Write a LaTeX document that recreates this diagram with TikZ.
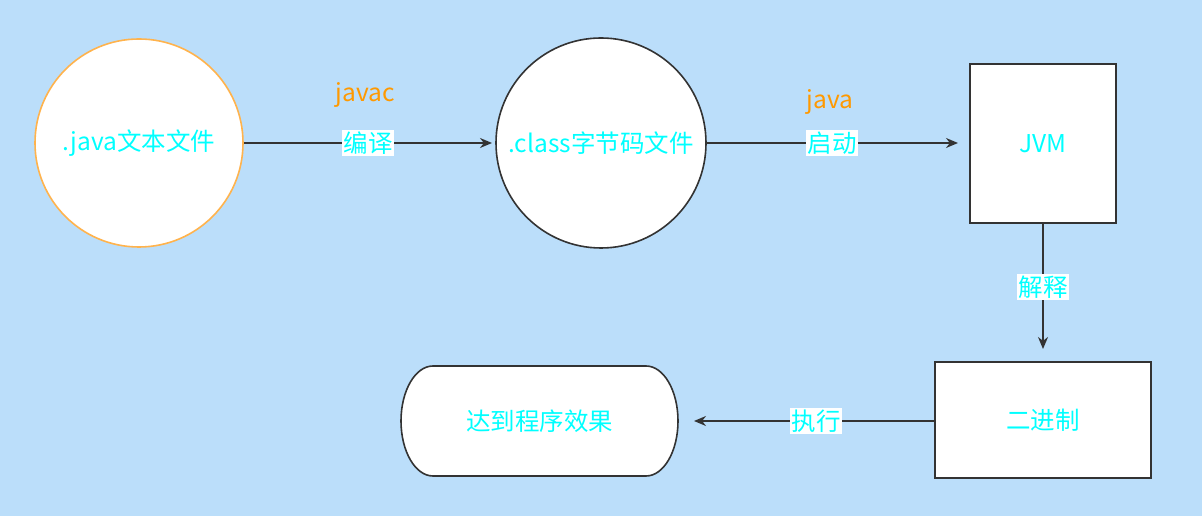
\documentclass[tikz,border=0pt]{standalone}
\usepackage{fontspec}
\setmainfont{Noto Sans CJK SC}
\usetikzlibrary{arrows.meta,shapes.geometric}
\definecolor{bgblue}{HTML}{BBDEFA}
\definecolor{txtcyan}{HTML}{00FFFF}
\definecolor{txtorange}{HTML}{FF9900}
\definecolor{ringorange}{HTML}{FFB34D}
\definecolor{darkline}{HTML}{333333}
\begin{document}
\begin{tikzpicture}[x=1pt,y=1pt,
  every node/.style={font=\fontsize{24.5}{29}\selectfont},
  circ/.style={circle,draw=darkline,line width=1.6pt,fill=white,text=txtcyan,inner sep=0pt},
  boxnode/.style={rectangle,draw=darkline,line width=1.6pt,fill=white,text=txtcyan,inner sep=0pt},
  conn/.style={draw=darkline,line width=1.6pt,-{Stealth[length=12pt,width=10pt]}},
  lbl/.style={fill=white,text=txtcyan,inner sep=1.5pt},
  cmd/.style={text=txtorange}]
\fill[bgblue] (0,0) rectangle (1202,516);
\useasboundingbox (0,0) rectangle (1202,516);
\node[circ,draw=ringorange,minimum size=208pt] (src) at (139,373) {.java文本文件};
\node[circ,minimum size=210pt] (cls) at (601,373) {.class字节码文件};
\node[boxnode,minimum width=146pt,minimum height=159pt] (jvm) at (1043,372.5) {};
\node[text=txtcyan] at (1043,372) {JVM};
\node[boxnode,minimum width=216pt,minimum height=116pt] (bin) at (1043,96) {二进制};
% terminator shape
\fill[white,draw=darkline,line width=1.6pt]
  (433,150) -- (646,150) arc[start angle=90,end angle=-90,x radius=32pt,y radius=55pt]
  -- (433,40) arc[start angle=270,end angle=90,x radius=32pt,y radius=55pt] -- cycle;
\node[inner sep=0pt,minimum width=277pt,minimum height=110pt,text=txtcyan] (res) at (539.5,95) {达到程序效果};
\coordinate (e1) at (492,373);
\coordinate (e2) at (958,373);
\coordinate (e3) at (1043,167);
\coordinate (e4) at (694,95);
\draw[conn] (src.east) -- (e1);
\draw[conn] (cls.east) -- (e2);
\draw[conn] (jvm.south) -- (e3);
\draw[conn] (bin.west |- e4) -- (e4);
\node[lbl] (l1) at (368,373) {编译};
\node[lbl] (l2) at (832,373) {启动};
\node[lbl] (l3) at (1043,229) {解释};
\node[lbl] (l4) at (816,95) {执行};
\node[cmd] (c1) at (365,421) {javac};
\node[cmd] (c2) at (830,414) {java};
\end{tikzpicture}
\end{document}
